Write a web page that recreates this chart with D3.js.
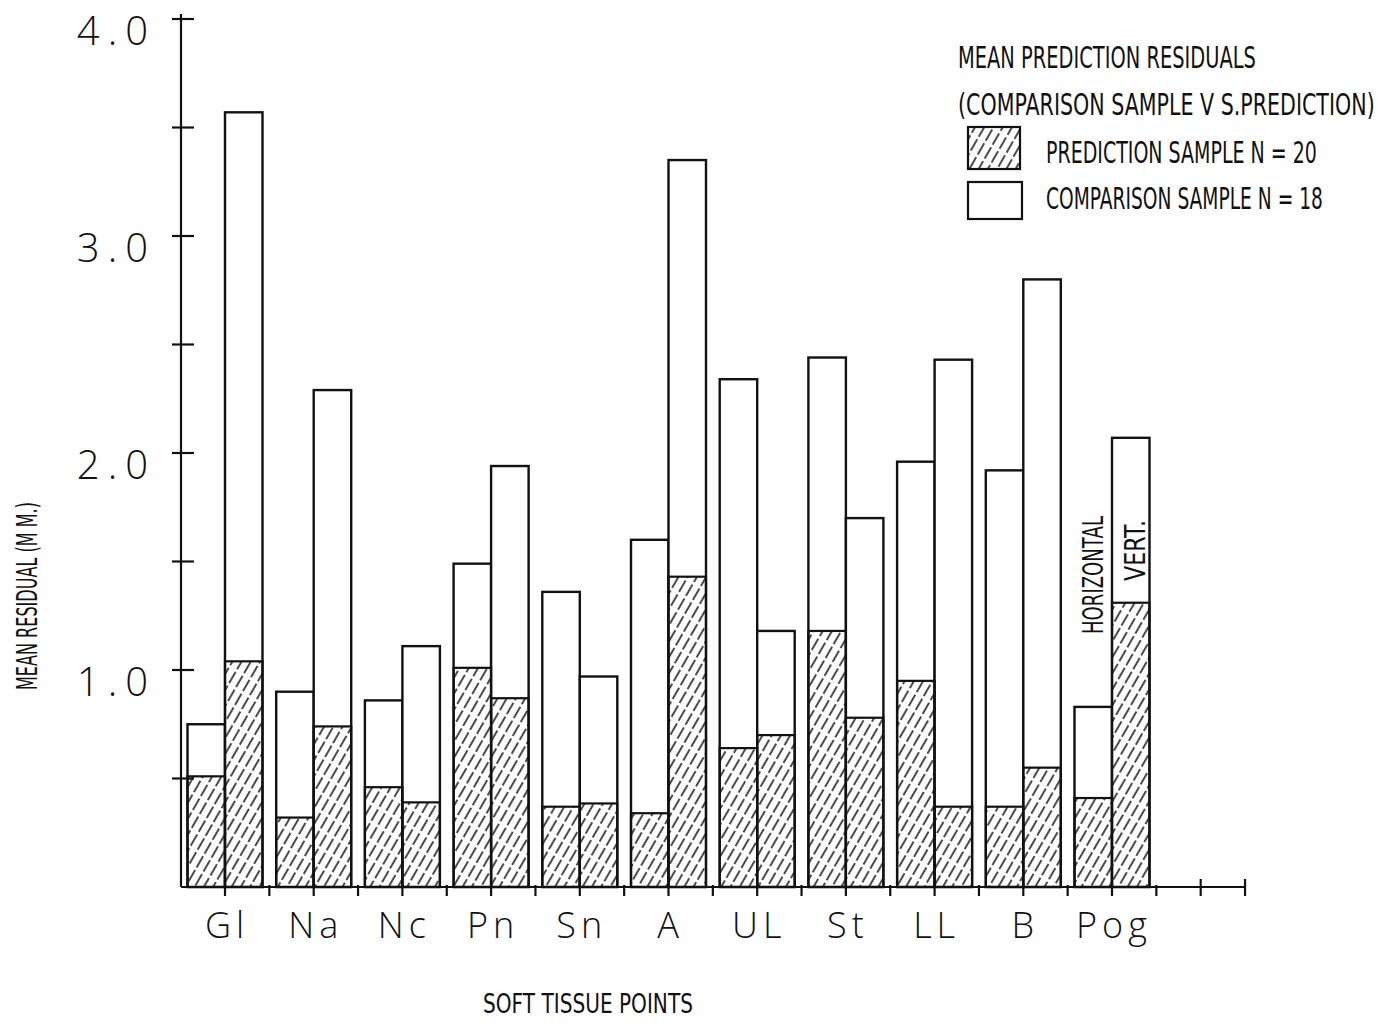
<!DOCTYPE html>
<html>
<head>
<meta charset="utf-8">
<script src="https://cdn.jsdelivr.net/npm/d3@7"></script>
<style>
  body { margin: 0; background: #fff; }
  svg { display: block; }
  .num { font-family: "Open Sans", "DejaVu Sans", sans-serif; font-weight: 300; fill: #111; }
  .cond { font-family: "DejaVu Sans", "Liberation Sans", sans-serif; fill: #111; }
</style>
</head>
<body>
<div id="chart"></div>
<script>
// soft tissue points, two bars each (horizontal, vertical)
const categories = ["Gl", "Na", "Nc", "Pn", "Sn", "A", "UL", "St", "LL", "B", "Pog"];
// prediction sample N = 20 (hatched part)
const predHoriz = [0.51, 0.32, 0.46, 1.01, 0.37, 0.34, 0.64, 1.18, 0.95, 0.37, 0.41];
const predVert = [1.04, 0.74, 0.39, 0.87, 0.385, 1.43, 0.70, 0.78, 0.37, 0.55, 1.31];
// comparison sample N = 18 (full bar)
const compHoriz = [0.75, 0.90, 0.86, 1.49, 1.36, 1.60, 2.34, 2.44, 1.96, 1.92, 0.83];
const compVert = [3.57, 2.29, 1.11, 1.94, 0.97, 3.35, 1.18, 1.70, 2.43, 2.80, 2.07];

const yTicks = [0.5, 1, 1.5, 2, 2.5, 3, 3.5, 4];
const yLabels = [1, 2, 3, 4];

var width = 1392, height = 1023;

var svg = d3
  .select("#chart")
  .append("svg")
  .attr("width", width)
  .attr("height", height);

// hatch pattern
var defs = svg.append("defs");
defs
  .append("pattern")
  .attr("id", "hatch")
  .attr("patternUnits", "userSpaceOnUse")
  .attr("width", 8)
  .attr("height", 32)
  .attr("patternTransform", "rotate(30)")
  .append("line")
  .attr("x1", 4)
  .attr("y1", 0)
  .attr("x2", 4)
  .attr("y2", 32)
  .attr("stroke", "#111")
  .attr("stroke-width", 1.5)
  .attr("stroke-dasharray", "13 3");

var y = d3.scaleLinear().domain([0, 4]).range([887, 19]);
// group index -> centre of the pair of bars
var x = d3.scaleLinear().domain([0, 10]).range([225, 1112]);
var axisX = 181;
var barW = 37.5;

// bars
var rows = categories.map(function (c, i) {
  return [
    { i: i, side: "h", pred: predHoriz[i], comp: compHoriz[i] },
    { i: i, side: "v", pred: predVert[i], comp: compVert[i] },
  ];
}).flat();

var bars = svg.append("g");
function barX(d) {
  return d.side === "h" ? x(d.i) - barW : x(d.i);
}
bars
  .selectAll("rect.comp")
  .data(rows)
  .enter()
  .append("rect")
  .attr("class", "comp")
  .attr("x", barX)
  .attr("y", (d) => y(d.comp))
  .attr("width", barW)
  .attr("height", (d) => y(0) - y(d.comp))
  .attr("fill", "#fff")
  .attr("stroke", "#111")
  .attr("stroke-width", 2.4);

bars
  .selectAll("rect.pred")
  .data(rows)
  .enter()
  .append("rect")
  .attr("class", "pred")
  .attr("x", barX)
  .attr("y", (d) => y(d.pred))
  .attr("width", barW)
  .attr("height", (d) => y(0) - y(d.pred))
  .attr("fill", "url(#hatch)")
  .attr("stroke", "#111")
  .attr("stroke-width", 2.2);

// y axis
var axes = svg.append("g").attr("stroke", "#111").attr("stroke-width", 2.2);
axes
  .append("line")
  .attr("x1", axisX)
  .attr("x2", axisX)
  .attr("y1", 14)
  .attr("y2", y(0));
axes
  .selectAll("line.yt")
  .data(yTicks)
  .enter()
  .append("line")
  .attr("x1", axisX - 9)
  .attr("x2", axisX + 13)
  .attr("y1", (d) => y(d))
  .attr("y2", (d) => y(d));

// x axis
var xTicks = d3.range(0, 11.51, 0.5);
axes
  .append("line")
  .attr("x1", axisX)
  .attr("x2", x(11.5))
  .attr("y1", y(0))
  .attr("y2", y(0));
axes
  .selectAll("line.xt")
  .data(xTicks)
  .enter()
  .append("line")
  .attr("x1", (d) => x(d))
  .attr("x2", (d) => x(d))
  .attr("y1", (d) => (d > 10.5 ? y(0) - 8 : y(0) - 2))
  .attr("y2", y(0) + 9);

// y tick labels
svg
  .selectAll("text.yl")
  .data(yLabels)
  .enter()
  .append("text")
  .attr("class", "num")
  .attr("x", 156)
  .attr("y", (d) => y(d) + 26)
  .attr("text-anchor", "end")
  .attr("font-size", 40)
  .attr("letter-spacing", 8)
  .text((d) => d.toFixed(1));

// category labels
svg
  .selectAll("text.cat")
  .data(categories)
  .enter()
  .append("text")
  .attr("class", "num")
  .attr("x", (d, i) => x(i) + 2)
  .attr("y", 938)
  .attr("text-anchor", "middle")
  .attr("font-size", 36)
  .attr("letter-spacing", 5)
  .text((d) => d);

// narrow lettering: squeeze text horizontally to a given length
function narrowText(parent, txt, x0, y0, size, len, rot) {
  var t = parent
    .append("text")
    .attr("class", "cond")
    .attr("font-size", size)
    .text(txt);
  var w = t.node().getComputedTextLength();
  var s = len / w;
  t.attr(
    "transform",
    "translate(" + x0 + "," + y0 + ")" + (rot ? " rotate(" + rot + ")" : "") + " scale(" + s + ",1)"
  );
  return t;
}

// titles
narrowText(svg, "MEAN RESIDUAL (M M.)", 37, 690, 29, 188, -90);
narrowText(svg, "SOFT TISSUE POINTS", 483, 1013, 27, 210);
narrowText(svg, "HORIZONTAL", 1103, 634, 28, 118, -90);
narrowText(svg, "VERT.", 1145, 581, 28, 61, -90);

// legend
var legend = svg.append("g");
narrowText(legend, "MEAN PREDICTION RESIDUALS", 958, 68, 30, 298);
narrowText(legend, "(COMPARISON SAMPLE V S.PREDICTION)", 958, 115, 30, 417);
legend
  .append("rect")
  .attr("x", 968)
  .attr("y", 127)
  .attr("width", 52)
  .attr("height", 42)
  .attr("fill", "url(#hatch)")
  .attr("stroke", "#111")
  .attr("stroke-width", 2.2);
narrowText(legend, "PREDICTION SAMPLE N = 20", 1046, 163, 30, 271);
legend
  .append("rect")
  .attr("x", 968)
  .attr("y", 182)
  .attr("width", 54)
  .attr("height", 37)
  .attr("fill", "#fff")
  .attr("stroke", "#111")
  .attr("stroke-width", 2.2);
narrowText(legend, "COMPARISON SAMPLE N = 18", 1046, 209, 30, 277);
</script>
</body>
</html>
